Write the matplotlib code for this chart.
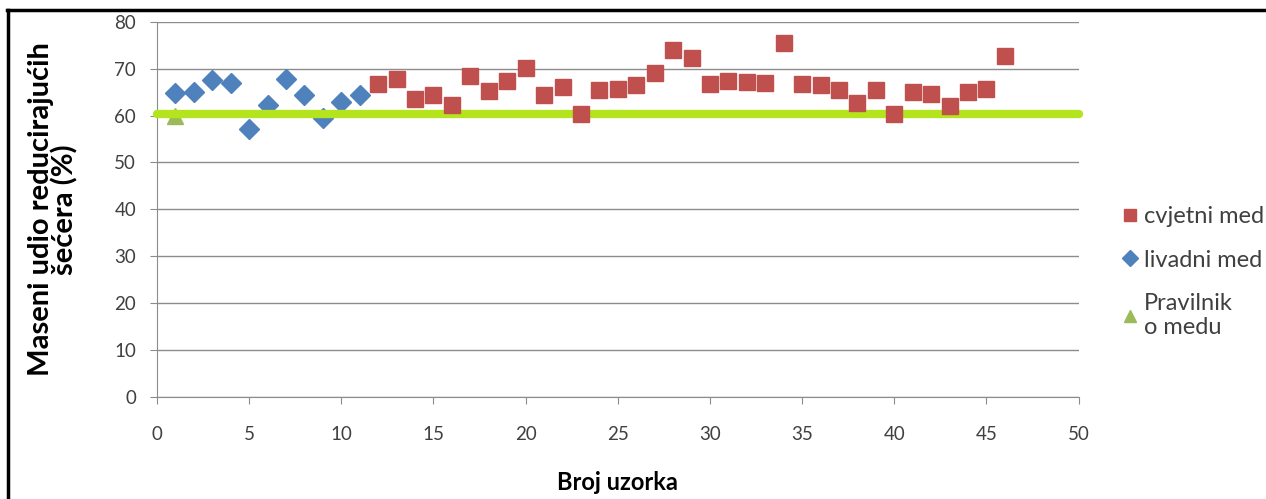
import matplotlib.pyplot as plt
from matplotlib.lines import Line2D

# data
livadni_x = list(range(1, 12))
livadni_y = [64.8, 65.0, 67.7, 67.0, 57.2, 62.3, 67.8, 64.5, 59.5, 63.0, 64.5]

cvjetni_x = list(range(12, 47))
cvjetni_y = [66.8, 67.9, 63.6, 64.5, 62.3, 68.4, 65.2, 67.4, 70.1, 64.5,
             66.1, 60.4, 65.4, 65.6, 66.5, 69.0, 74.1, 72.2, 66.8, 67.5,
             67.2, 67.0, 75.6, 66.8, 66.5, 65.4, 62.6, 65.4, 60.4, 65.0,
             64.7, 62.0, 65.0, 65.7, 72.7]

pravilnik_x = [1]
pravilnik_y = [60]
limit_x = [0, 50]
limit_y = [60.4, 60.4]

plt.rcParams['font.family'] = ['Lato', 'DejaVu Sans']

fig = plt.figure(figsize=(12.66, 4.99), dpi=100)
ax = fig.add_axes([0.124, 0.205, 0.728, 0.751])

# border lines on the left and top of the picture
fig.add_artist(Line2D([0.0065, 0.0065], [0.0, 0.98], color="black", lw=2.5, transform=fig.transFigure))
fig.add_artist(Line2D([0.0055, 1.0], [0.98, 0.98], color="black", lw=2.5, transform=fig.transFigure))

ax.set_xlim(0, 50)
ax.set_ylim(0, 80)
ax.set_xticks(range(0, 51, 5))
ax.set_yticks(range(0, 81, 10))
ax.grid(axis="y", color="#8c8c8c", lw=1)
ax.set_axisbelow(True)
for s in ["top", "right"]:
    ax.spines[s].set_visible(False)
for s in ["left", "bottom"]:
    ax.spines[s].set_color("#8c8c8c")
ax.tick_params(colors="#8c8c8c", labelcolor="#404040", labelsize=13.5, length=5, direction="out")
ax.tick_params(axis="x", pad=16)
ax.tick_params(axis="y", pad=10)

ax.plot(livadni_x, livadni_y, "D", color="#4F81BD", ms=10.5, ls="none", label="livadni med", zorder=3)
ax.plot(pravilnik_x, pravilnik_y, "^", color="#9BBB59", ms=12, ls="none", label="Pravilnik\no medu", zorder=3)
ax.plot(limit_x, limit_y, color="#B4E41E", lw=6, solid_capstyle="round", clip_on=False, zorder=4)
ax.plot(cvjetni_x, cvjetni_y, "s", color="#C0504D", ms=12, ls="none", label="cvjetni med", zorder=5)

ax.set_xlabel("Broj uzorka", fontsize=17, fontweight="bold", labelpad=20)
ax.set_ylabel("Maseni udio reducirajućih\nšećera (%)", fontsize=21, fontweight="bold", labelpad=26, linespacing=0.85)

h, l = ax.get_legend_handles_labels()
order = [2, 0, 1]
ax.legend([h[i] for i in order], [l[i] for i in order], loc="upper left", bbox_to_anchor=(1.025, 0.565),
          frameon=False, fontsize=17, handlelength=0.6, handletextpad=0.3, labelspacing=0.95,
          markerscale=0.75, labelcolor="#404040")

fig.savefig("out.png", dpi=100)
